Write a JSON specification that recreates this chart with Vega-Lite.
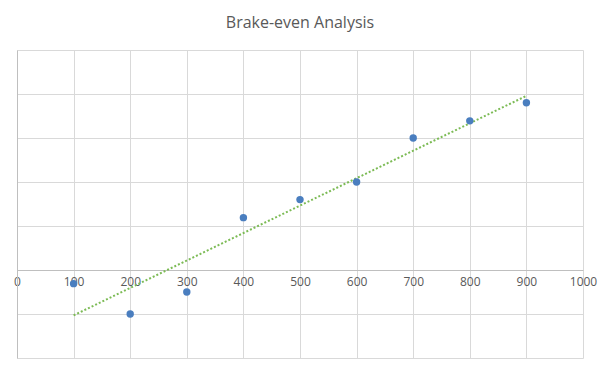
{
  "$schema": "https://vega.github.io/schema/vega-lite/v6.json",
  "width": 566,
  "height": 308,
  "autosize": {"type": "none"},
  "padding": {"left": 17, "top": 50, "right": 25, "bottom": 15},
  "background": "white",
  "title": {"text": "Brake-even Analysis", "font": "Open Sans", "fontSize": 16, "fontWeight": "normal", "color": "#595959", "offset": 19},
  "config": {"view": {"stroke": null}},
  "data": {"values": [
    {"x": 100, "y": -0.31},
    {"x": 200, "y": -1.0},
    {"x": 300, "y": -0.5},
    {"x": 400, "y": 1.19},
    {"x": 500, "y": 1.6},
    {"x": 600, "y": 2.0},
    {"x": 700, "y": 3.0},
    {"x": 800, "y": 3.39},
    {"x": 900, "y": 3.8}
  ]},
  "encoding": {
    "x": {"field": "x", "type": "quantitative", "scale": {"domain": [0, 1000], "nice": false},
      "axis": {"title": null, "format": "d", "values": [0,100,200,300,400,500,600,700,800,900,1000], "offset": -88, "ticks": false, "domainColor": "#bfbfbf", "gridColor": "#d9d9d9", "labelColor": "#595959", "labelFont": "Open Sans", "labelFontSize": 12, "labelPadding": 6, "labelFlush": false}},
    "y": {"field": "y", "type": "quantitative", "scale": {"domain": [-2, 5], "nice": false},
      "axis": {"title": null, "values": [-2,-1,0,1,2,3,4,5], "labels": false, "ticks": false, "domainColor": "#bfbfbf", "gridColor": "#d9d9d9"}}
  },
  "layer": [
    {
      "transform": [{"regression": "y", "on": "x", "extent": [100, 900]}],
      "mark": {"type": "line", "color": "#7cbb55", "strokeWidth": 2, "strokeDash": [2, 2]}
    },
    {
      "mark": {"type": "point", "filled": true, "size": 55, "opacity": 1, "color": "#4a7ebf"}
    }
  ]
}
